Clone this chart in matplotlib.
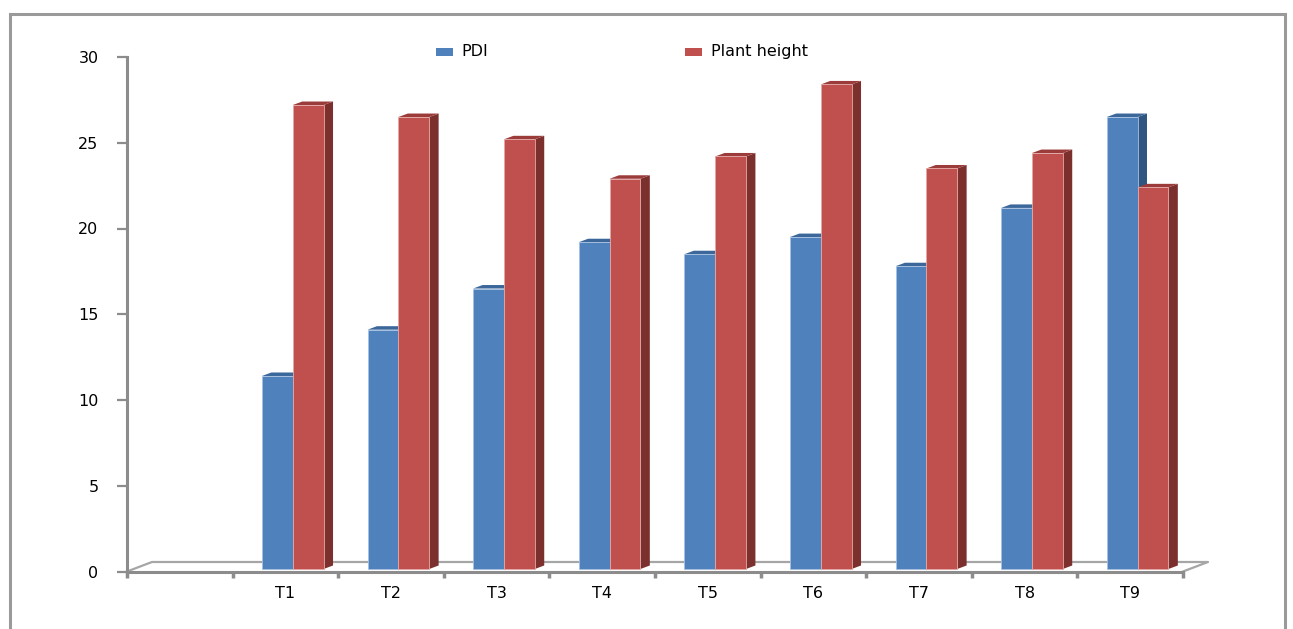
import matplotlib
matplotlib.use("Agg")
import matplotlib.pyplot as plt
from matplotlib.patches import Polygon, Rectangle
from matplotlib.lines import Line2D
import numpy as np

# ---- data ----
categories = ["", "T1", "T2", "T3", "T4", "T5", "T6", "T7", "T8", "T9"]
pdi = [None, 11.4, 14.1, 16.5, 19.2, 18.5, 19.5, 17.8, 21.2, 26.5]
plant_height = [None, 27.2, 26.5, 25.2, 22.9, 24.2, 28.4, 23.5, 24.4, 22.4]
series_names = ["PDI", "Plant height"]
y_ticks = [0, 5, 10, 15, 20, 25, 30]

# ---- styling ----
W, H, DPI = 1293, 629, 100
blue = dict(front="#4F81BD", top="#3B679A", side="#2F5581", edge="#A9C1E0")
red = dict(front="#C0504D", top="#9C3C3A", side="#7C302E", edge="#E4A9A7")
axis_gray = "#8C8C8C"
FS = 11.5

fig = plt.figure(figsize=(W / DPI, H / DPI), dpi=DPI)
fig.patch.set_facecolor("white")

# outer chart frame
fig.add_artist(Rectangle((10 / W, -0.05), (1285 - 10) / W, (H - 14) / H + 0.05,
                         transform=fig.transFigure, fill=False,
                         edgecolor="#9A9A9A", linewidth=2.2))

x0_px, x1_px, y0_px, y1_px = 127, 1183, 571.5, 57
ax = fig.add_axes([x0_px / W, (H - y0_px) / H, (x1_px - x0_px) / W, (y0_px - y1_px) / H])
n = len(categories)
ax.set_xlim(-0.5, n - 0.5)
ax.set_ylim(0, 30)

px_x = (x1_px - x0_px) / n      # pixels per category
px_y = (y0_px - y1_px) / 30     # pixels per unit

# depth offsets of the bars and the floor, in data units
bdx, bdy = 9.4 / px_x, 3.5 / px_y
fdx, fdy = 25 / px_x, 9.5 / px_y
base = 2.5 / px_y

# floor
floor_kw = dict(color="#A6A6A6", linewidth=1.6, clip_on=False, zorder=1)
ax.add_line(Line2D([-0.5, -0.5 + fdx, n - 0.5 + fdx, n - 0.5],
                   [0, fdy, fdy, 0], **floor_kw))

xs = np.arange(n)
width = 0.292
offsets = [-0.222, 0.070]


def draw_bars(values, off, col, z):
    for x, v in zip(xs, values):
        if v is None:
            continue
        xl = x + off
        xr = xl + width
        ax.bar(xl, v - base, width=width, bottom=base, align="edge",
               color=col["front"], edgecolor=col["edge"], linewidth=0.6, zorder=z)
        ax.add_patch(Polygon([(xr, base), (xr, v), (xr + bdx, v + bdy), (xr + bdx, base + bdy)],
                             closed=True, facecolor=col["side"], edgecolor="none",
                             zorder=z - 0.5, clip_on=False))
        ax.add_patch(Polygon([(xl, v), (xr, v), (xr + bdx, v + bdy), (xl + bdx, v + bdy)],
                             closed=True, facecolor=col["top"], edgecolor="none",
                             zorder=z - 0.5, clip_on=False))


draw_bars(pdi, offsets[0], blue, 3)
draw_bars(plant_height, offsets[1], red, 5)

# axes styling
for s in ["top", "right"]:
    ax.spines[s].set_visible(False)
for s in ["left", "bottom"]:
    ax.spines[s].set_color(axis_gray)
    ax.spines[s].set_linewidth(2.2)
    ax.spines[s].set_zorder(2)

ax.set_yticks(y_ticks)
ax.set_yticklabels([str(t) for t in y_ticks])
ax.tick_params(axis="y", direction="out", length=7, width=1.6, color=axis_gray,
               pad=13.5, labelsize=FS, labelcolor="black")

ax.set_xticks(np.arange(-0.5, n, 1.0))
ax.set_xticklabels([])
ax.tick_params(axis="x", which="major", direction="out", length=4, width=2.5, color=axis_gray)
ax.set_xticks(xs, categories, minor=True)
ax.tick_params(axis="x", which="minor", length=0, pad=10.5, labelsize=FS, labelcolor="black")

# legend
leg_items = [(436, 461, blue["front"]), (685, 711, red["front"])]
for (rx, tx, c), name in zip(leg_items, series_names):
    fig.add_artist(Rectangle((rx / W, (H - 55.5) / H), 17 / W, 7.5 / H,
                             transform=fig.transFigure, facecolor=c, edgecolor="none"))
    fig.text(tx / W, (H - 51.5) / H, name, fontsize=FS, va="center", ha="left", color="black")

fig.savefig("out.png", dpi=DPI, facecolor="white")
